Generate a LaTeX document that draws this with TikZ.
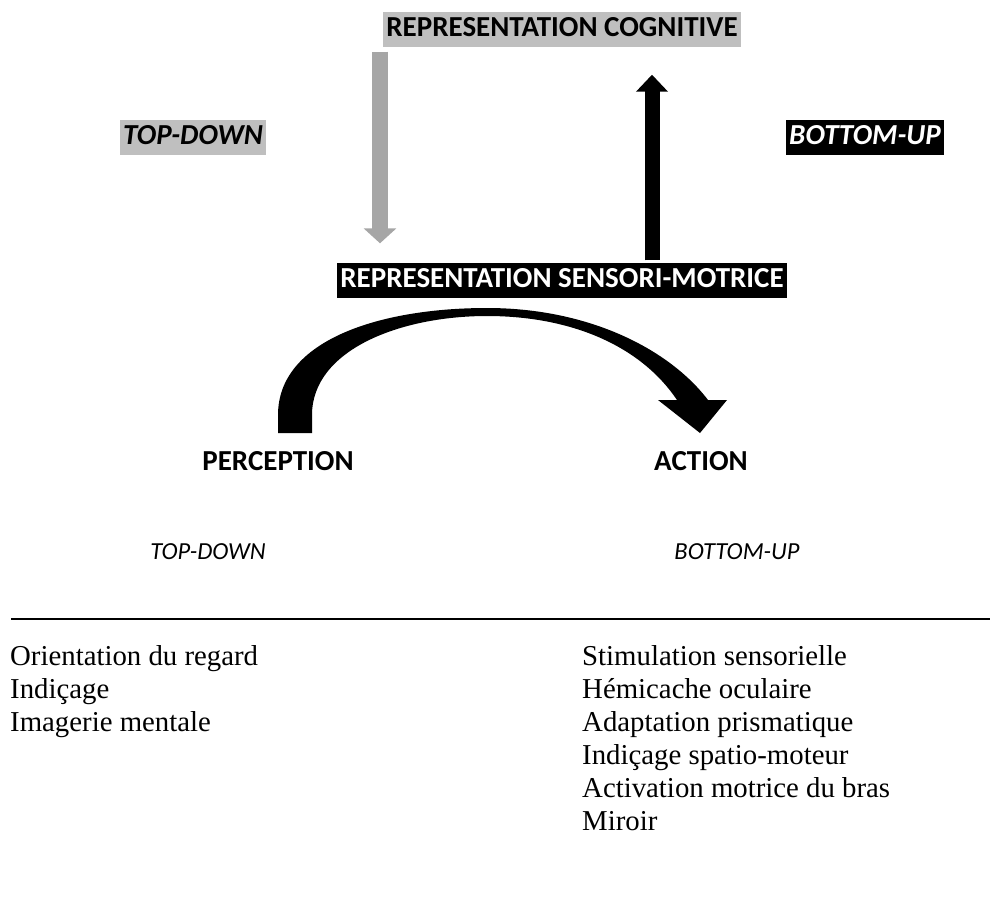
\documentclass[tikz,border=0pt]{standalone}
\usepackage{fontspec}
\setmainfont{Liberation Serif}
\newfontfamily\carlito{Carlito}
\usetikzlibrary{arrows.meta,positioning}
\definecolor{boxgray}{HTML}{BFBFBF}
\definecolor{arrowgray}{HTML}{A6A6A6}
\newcommand\titrefont{\carlito\fontsize{29}{34}\selectfont}
\newcommand\sensfont{\carlito\fontsize{24.5}{30}\selectfont}

\begin{document}
\begin{tikzpicture}[x=1pt,y=-1pt,
  titre/.style={font=\titrefont\bfseries, inner xsep=3pt, inner ysep=0pt,
    text height=23pt, text depth=8pt, minimum height=35pt},
  grisbox/.style={titre, fill=boxgray},
  noirbox/.style={titre, fill=black, text=white},
  etiq/.style={font=\titrefont\bfseries, anchor=base, inner sep=0pt},
  sens/.style={font=\sensfont\itshape, anchor=base, inner sep=0pt},
  item/.style={font=\fontsize{28.8}{33}\selectfont, anchor=base west, inner sep=0pt}]
\useasboundingbox (0,0) rectangle (990,898);

% les deux niveaux de representation
\node[grisbox] (cogn) at (562,29) {REPRESENTATION COGNITIVE};
\node[noirbox] (senso) at (562,280) {REPRESENTATION SENSORI-MOTRICE};
\node[grisbox, font=\titrefont\bfseries\itshape] (topdown) at (193,137) {TOP-DOWN};
\node[noirbox, font=\titrefont\bfseries\itshape] (bottomup) at (865,137) {BOTTOM-UP};

% fleches verticales
\coordinate (gx) at (380,0);
\coordinate (nx) at (652,0);
\draw[arrowgray, line width=16pt, -{Triangle[width=32pt,length=15pt]},
  shorten <=5pt, shorten >=19pt] (cogn.south -| gx) -- (senso.north -| gx);
\draw[black, line width=15pt, -{Triangle[width=31pt,length=17pt]},
  shorten <=2pt, shorten >=28pt] (senso.north -| nx) -- (cogn.south -| nx);

\node[etiq] (perc) at (278,470) {PERCEPTION};
\node[etiq] (act) at (701,470) {ACTION};

% fleche courbe perception -> action
\fill (278,433) -- (278,415) .. controls (278,340) and (380,308) .. (487,308)
  .. controls (590,308) and (670,350) .. (708,400) -- (727,400) -- (700,433)
  -- (658,400) -- (677,400) .. controls (640,345) and (570,316) .. (487,316)
  .. controls (400,316) and (312,350) .. (312,415) -- (312,433) -- cycle;

\node[sens] (tdbas) at (208,559) {TOP-DOWN};
\node[sens] (bubas) at (737,559) {BOTTOM-UP};

\draw[line width=2pt] (11,619) -- (990,619);

\foreach \t [count=\i] in {Orientation du regard, Indiçage, Imagerie mentale}
  \node[item] (g\i) at (10,{665+33*(\i-1)}) {\t};
\foreach \t [count=\i] in {Stimulation sensorielle, Hémicache oculaire,
    Adaptation prismatique, Indiçage spatio-moteur,
    Activation motrice du bras, Miroir}
  \node[item] (d\i) at (582,{665+33*(\i-1)}) {\t};
\end{tikzpicture}
\end{document}
